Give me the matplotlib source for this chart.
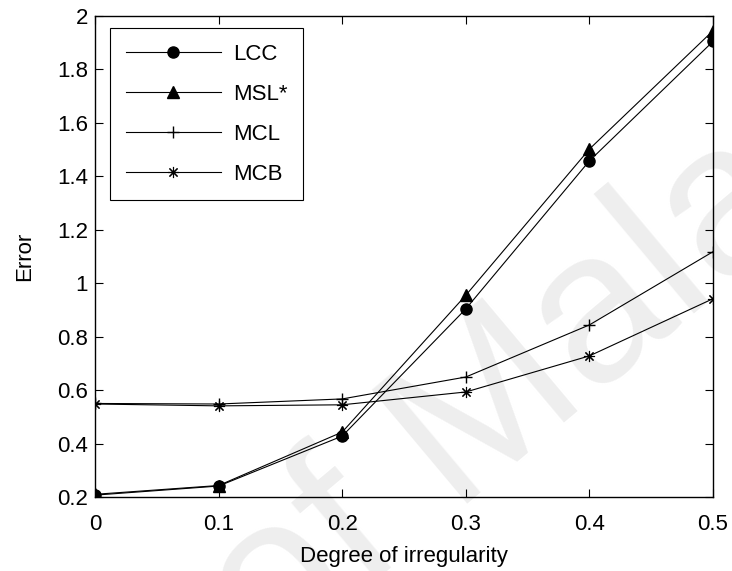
import numpy as np
import matplotlib.pyplot as plt

# error vs. degree of irregularity
irregularity = [0, 0.1, 0.2, 0.3, 0.4, 0.5]
lcc = [0.207, 0.241, 0.428, 0.904, 1.458, 1.905]
msl = [0.210, 0.243, 0.443, 0.955, 1.502, 1.945]
mcl = [0.550, 0.548, 0.567, 0.649, 0.844, 1.118]
mcb = [0.548, 0.541, 0.545, 0.593, 0.728, 0.942]
names = ["LCC", "MSL*", "MCL", "MCB"]

plt.rcParams['font.family'] = ['Liberation Sans', 'DejaVu Sans']

fig = plt.figure(figsize=(7.32, 5.71), dpi=100)
ax = fig.add_axes([0.1298, 0.1296, 0.8443, 0.8424])
ax.set_facecolor('none')

# faint watermark behind the axes
fig.text(0.37, -0.17, "of Malaya", fontsize=155, color='#eeeeee',
         rotation=40, rotation_mode='anchor', ha='left', va='baseline', zorder=-1)

ax.plot(irregularity, lcc, 'k-', lw=0.8, marker='o', ms=8, label=names[0])
ax.plot(irregularity, msl, 'k-', lw=0.8, marker='^', ms=8, label=names[1])
ax.plot(irregularity, mcl, 'k-', lw=0.8, marker='+', ms=9, mew=1.0, label=names[2])
ax.plot(irregularity, mcb, 'k-', lw=0.8, marker=(8, 2, 0), ms=8, mew=0.8, label=names[3])

ax.set_xlim(0, 0.5)
ax.set_ylim(0.2, 2)
ax.set_xticks(np.arange(0, 0.51, 0.1))
ax.set_xticklabels(["0", "0.1", "0.2", "0.3", "0.4", "0.5"])
ax.set_yticks(np.arange(0.2, 2.01, 0.2))
ax.set_yticklabels(["0.2", "0.4", "0.6", "0.8", "1", "1.2", "1.4", "1.6", "1.8", "2"])
ax.tick_params(direction='in', top=True, right=True, length=6, width=0.8, labelsize=16)
ax.tick_params(axis='x', pad=12)
ax.tick_params(axis='y', pad=5)
for s in ax.spines.values():
    s.set_linewidth(1.0)

ax.set_xlabel("Degree of irregularity", fontsize=16, labelpad=8)
ax.set_ylabel("Error", fontsize=16, labelpad=16)

leg = ax.legend(loc='upper left', bbox_to_anchor=(0.0243, 0.975), borderaxespad=0,
                fontsize=16, handlelength=4.3, handletextpad=0.55, labelspacing=0.86,
                fancybox=False, edgecolor='black', framealpha=1, borderpad=0.7)
leg.get_frame().set_linewidth(0.8)

fig.savefig("out.png", dpi=100)
